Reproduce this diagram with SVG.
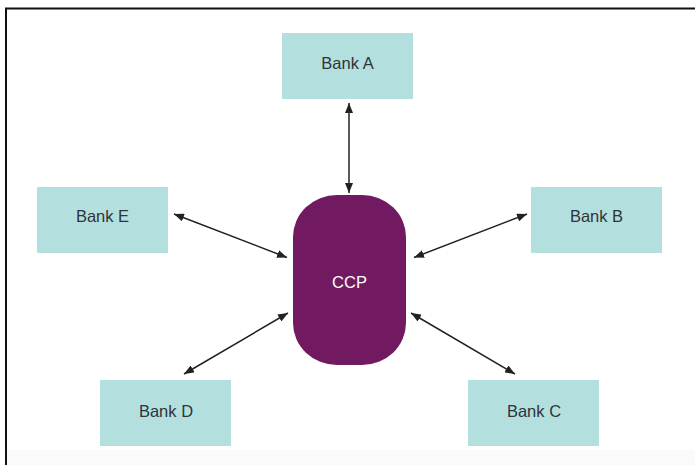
<svg xmlns="http://www.w3.org/2000/svg" width="695" height="465" viewBox="0 0 695 465">
  <defs>
    <style>
      .bank rect { fill: #b3e0df; }
      .bank text { font-family: "Liberation Sans", Arial, sans-serif; font-size: 16.5px; fill: #2f3438; text-anchor: middle; }
      .ccp rect { fill: #721a61; }
      .ccp text { font-family: "Liberation Sans", Arial, sans-serif; font-size: 16.5px; fill: #ffffff; text-anchor: middle; }
      .conn line { stroke: #222222; stroke-width: 1.5; fill: none; marker-start: url(#ah); marker-end: url(#ah); }
    </style>
    <marker id="ah" viewBox="0 0 10 8" refX="10" refY="4" markerWidth="10" markerHeight="8" markerUnits="userSpaceOnUse" orient="auto-start-reverse">
      <path d="M0,0 L10,4 L0,8 Z" fill="#222222"/>
    </marker>
  </defs>
  <rect x="0" y="0" width="695" height="465" fill="#ffffff"/>
  <rect x="6" y="450" width="689" height="15" fill="#fafafa"/>
  <g id="frame">
    <line x1="5" y1="8.5" x2="695" y2="8.5" stroke="#111111" stroke-width="2"/>
    <line x1="6" y1="8" x2="6" y2="465" stroke="#111111" stroke-width="2"/>
  </g>
  <g id="connectors" class="conn">
    <line x1="349" y1="103" x2="349" y2="193"/>
    <line x1="174" y1="214" x2="287" y2="257.5"/>
    <line x1="527" y1="214" x2="414" y2="257.5"/>
    <line x1="288" y1="313" x2="184" y2="374"/>
    <line x1="411" y1="313" x2="515" y2="374"/>
  </g>
  <g id="bank-a" class="bank">
    <rect x="282" y="33" width="131" height="66"/>
    <text x="347.5" y="69">Bank A</text>
  </g>
  <g id="bank-e" class="bank">
    <rect x="37" y="187" width="131" height="66"/>
    <text x="102.5" y="222">Bank E</text>
  </g>
  <g id="bank-b" class="bank">
    <rect x="531" y="187" width="131" height="66"/>
    <text x="596.5" y="222">Bank B</text>
  </g>
  <g id="bank-d" class="bank">
    <rect x="100" y="380" width="131" height="66"/>
    <text x="166" y="417">Bank D</text>
  </g>
  <g id="bank-c" class="bank">
    <rect x="468" y="380" width="131" height="66"/>
    <text x="534" y="417">Bank C</text>
  </g>
  <g id="ccp" class="ccp">
    <rect x="293" y="195" width="113" height="170" rx="44" ry="42"/>
    <text x="349.5" y="288">CCP</text>
  </g>
</svg>
